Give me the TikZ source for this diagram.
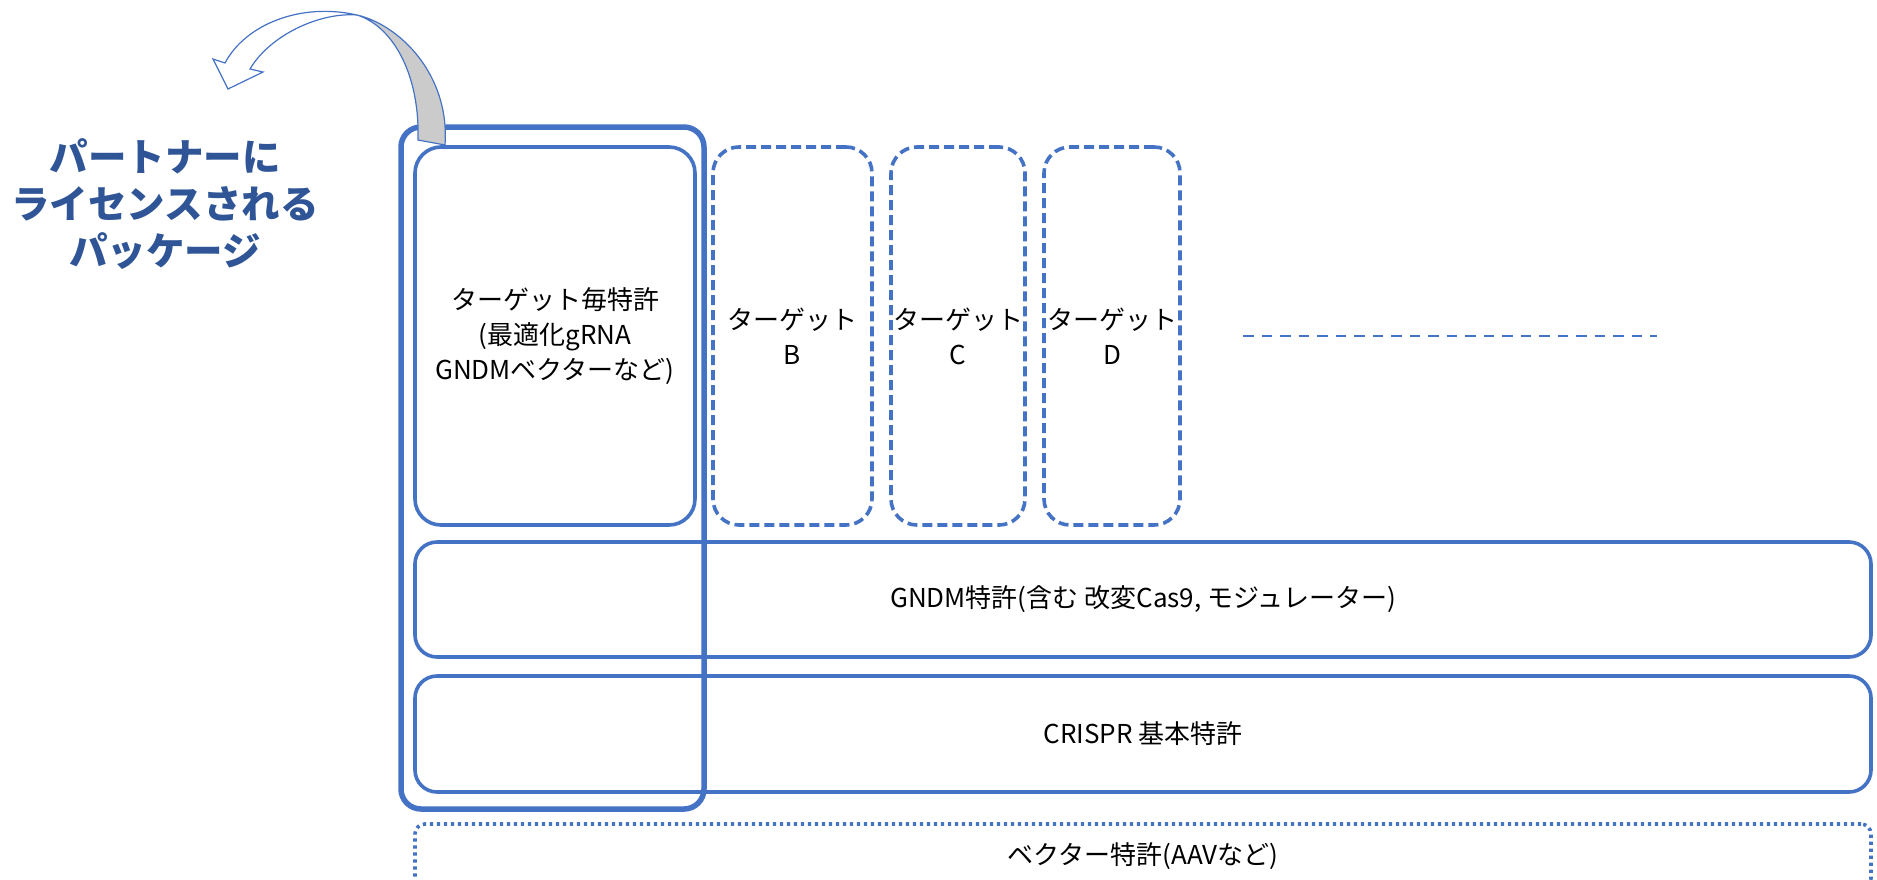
\documentclass[tikz,border=0pt]{standalone}
\usepackage{fontspec}
\setmainfont{Noto Sans CJK JP}
\definecolor{boxblue}{HTML}{4472C4}
\definecolor{titleblue}{HTML}{2F5597}
\definecolor{arrowgray}{HTML}{CBCBCB}
\begin{document}
\begin{tikzpicture}[x=1pt,y=-1pt,
  lbl/.style={font=\fontsize{26}{35}\selectfont, align=center, text=black},
  solidbox/.style={draw=boxblue, line width=3.6pt, rounded corners=26pt, inner sep=0pt},
  dashbox/.style={draw=boxblue, line width=3.6pt, dash pattern=on 10pt off 5pt, rounded corners=26pt, inner sep=0pt},
  wide/.style={draw=boxblue, line width=3.6pt, rounded corners=22pt, inner sep=0pt, minimum width=1456pt},
  dotbox/.style={draw=boxblue, line width=3.6pt, dash pattern=on 3.2pt off 3.8pt, rounded corners=10pt, inner sep=0pt, minimum width=1456pt},
  pkgbox/.style={draw=boxblue, line width=5.5pt, rounded corners=20pt, inner sep=0pt},
  curvearrow/.style={draw=boxblue, line width=1.2pt, line join=miter}
]
\useasboundingbox (0,0) rectangle (1877,879);
\clip (0,0) rectangle (1877,879);

% title
\node[font=\fontsize{38.5}{47}\selectfont\bfseries, text=titleblue, align=center] (title) at (165,204) {パートナーに\\ライセンスされる\\パッケージ};

% target boxes
\node[solidbox, lbl, minimum width=280pt, minimum height=378pt] (tA) at (555,336) {ターゲット毎特許\\(最適化gRNA\\GNDMベクターなど)};
\node[dashbox, lbl, minimum width=159pt, minimum height=378pt] (tB) at (792.5,336) {ターゲット\\B};
\node[dashbox, lbl, minimum width=134pt, minimum height=378pt] (tC) at (958,336) {ターゲット\\C};
\node[dashbox, lbl, minimum width=136pt, minimum height=378pt] (tD) at (1112,336) {ターゲット\\D};

\coordinate (dl1) at (1243,336);
\coordinate (dl2) at (1657,336);
\draw[boxblue, line width=2.8pt, dash pattern=on 10.5pt off 8pt] (dl1) -- (dl2);

% wide boxes
\node[wide, lbl, minimum height=115pt] (gndm) at (1143,599.5) {GNDM特許(含む 改変Cas9, モジュレーター)};
\node[wide, lbl, minimum height=116pt] (crispr) at (1143,734) {CRISPR 基本特許};
\node[dotbox, lbl, minimum height=64pt] (vec) at (1143,856) {ベクター特許(AAVなど)};

% package outline
\node[pkgbox, minimum width=303pt, minimum height=682pt] (pkg) at (552.5,468) {};

% curved arrow
\coordinate (X) at (357,15);
\fill[white] (250,69) -- (263,72) -- (228,89) -- (213,59) -- (225,63)
  .. controls (245,25) and (300,2) .. (X)
  .. controls (320,12) and (270,35) .. (250,69) -- cycle;
\draw[curvearrow] (250,69) -- (263,72) -- (228,89) -- (213,59) -- (225,63)
  .. controls (245,25) and (300,2) .. (X)
  .. controls (320,12) and (270,35) .. (250,69) -- cycle;
\draw[curvearrow, fill=arrowgray] (X) .. controls (400,25) and (450,75) .. (445,145)
  -- (418,140) .. controls (420,70) and (390,25) .. (X) -- cycle;
\end{tikzpicture}
\end{document}
